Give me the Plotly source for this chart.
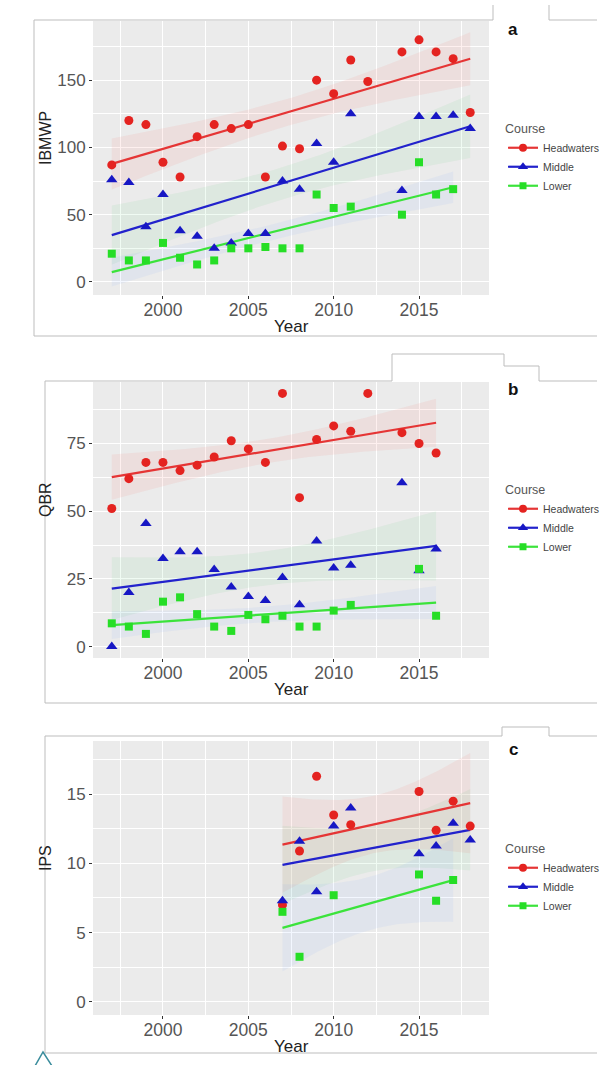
import numpy as np
import plotly.graph_objects as go

W, H = 615, 1065

COURSES = ["Headwaters", "Middle", "Lower"]

# ---------------- data ----------------
# Panel a : IBMWP
a_head_years = [1997, 1998, 1999, 2000, 2001, 2002, 2003, 2004, 2005, 2006, 2007,
                2008, 2009, 2010, 2011, 2012, 2014, 2015, 2016, 2017, 2018]
a_head_vals = [87, 120, 117, 89, 78, 108, 117, 114, 117, 78, 101,
               99, 150, 140, 165, 149, 171, 180, 171, 166, 126]
a_mid_years = [1997, 1998, 1999, 2000, 2001, 2002, 2003, 2004, 2005, 2006, 2007,
               2008, 2009, 2010, 2011, 2014, 2015, 2016, 2017, 2018]
a_mid_vals = [76, 74, 41, 65, 38, 34, 25, 29, 36, 36, 75,
              69, 103, 89, 125, 68, 123, 123, 124, 114]
a_low_years = [1997, 1998, 1999, 2000, 2001, 2002, 2003, 2004, 2005, 2006, 2007,
               2008, 2009, 2010, 2011, 2014, 2015, 2016, 2017]
a_low_vals = [21, 16, 16, 29, 18, 13, 16, 25, 25, 26, 25,
              25, 65, 55, 56, 50, 89, 65, 69]

# Panel b : QBR
b_head_years = [1997, 1998, 1999, 2000, 2001, 2002, 2003, 2004, 2005, 2006, 2007,
                2008, 2009, 2010, 2011, 2012, 2014, 2015, 2016]
b_head_vals = [51, 62, 68, 68, 65, 67, 70, 76, 73, 68, 93.5,
               55, 76.5, 81.5, 79.5, 93.5, 79, 75, 71.5]
b_mid_years = [1997, 1998, 1999, 2000, 2001, 2002, 2003, 2004, 2005, 2006, 2007,
               2008, 2009, 2010, 2011, 2014, 2015, 2016]
b_mid_vals = [0, 20, 45.5, 32.5, 35, 35, 28.5, 22, 18.5, 17, 25.5,
              15.5, 39, 29, 30, 60.5, 28, 36]
b_low_years = [1997, 1998, 1999, 2000, 2001, 2002, 2003, 2004, 2005, 2006, 2007,
               2008, 2009, 2010, 2011, 2015, 2016]
b_low_vals = [8.6, 7.4, 4.7, 16.6, 18.2, 12, 7.4, 5.8, 11.7, 10.1, 11.4,
              7.4, 7.4, 13.3, 15.4, 28.7, 11.4]

# Panel c : IPS
c_head_years = [2007, 2008, 2009, 2010, 2011, 2015, 2016, 2017, 2018]
c_head_vals = [7.0, 10.9, 16.3, 13.5, 12.8, 15.2, 12.4, 14.5, 12.7]
c_mid_years = [2007, 2008, 2009, 2010, 2011, 2015, 2016, 2017, 2018]
c_mid_vals = [7.3, 11.6, 7.95, 12.7, 14.0, 10.7, 11.25, 12.9, 11.7]
c_low_years = [2007, 2008, 2010, 2015, 2016, 2017]
c_low_vals = [6.5, 3.25, 7.7, 9.2, 7.3, 8.8]

x_ticks = [2000, 2005, 2010, 2015]
a_yticks = [0, 50, 100, 150]
b_yticks = [0, 25, 50, 75]
c_yticks = [0, 5, 10, 15]

# ---------------- styles ----------------
COLORS = {"Headwaters": "#E42320", "Middle": "#1717C4", "Lower": "#26DE26"}
LINECOL = {"Headwaters": "#E53535", "Middle": "#2222CC", "Lower": "#3BE33B"}
FILLS = {"Headwaters": "rgba(248,118,109,0.11)",
         "Middle": "rgba(0,186,56,0.06)",
         "Lower": "rgba(97,156,255,0.08)"}
SYMBOLS = {"Headwaters": "circle", "Middle": "triangle-up", "Lower": "square"}
SIZES = {"Headwaters": 9, "Middle": 10, "Lower": 8}


def tq(df):
    z = 1.959964
    return (z + (z**3 + z) / (4 * df) + (5 * z**5 + 16 * z**3 + 3 * z) / (96 * df**2)
            + (3 * z**7 + 19 * z**5 + 17 * z**3 - 15 * z) / (384 * df**3))


def fit(x, y):
    x = np.asarray(x, float)
    y = np.asarray(y, float)
    n = len(x)
    b, a = np.polyfit(x, y, 1)
    xg = np.linspace(x.min(), x.max(), 80)
    yh = a + b * xg
    res = y - (a + b * x)
    s = np.sqrt((res ** 2).sum() / (n - 2))
    sxx = ((x - x.mean()) ** 2).sum()
    se = s * np.sqrt(1.0 / n + (xg - x.mean()) ** 2 / sxx)
    t = tq(n - 2)
    return xg, yh, yh - t * se, yh + t * se


def px(x):
    return x / W


def py(y):
    return 1 - y / H


panels = [
    dict(key="", data={"Headwaters": (a_head_years, a_head_vals),
                       "Middle": (a_mid_years, a_mid_vals),
                       "Lower": (a_low_years, a_low_vals)},
         ytitle="IBMWP", yticks=a_yticks, yr=[-9.7, 194], ymin0=25, ymind=50,
         top=21, bot=295, label="a", legend="legend"),
    dict(key="2", data={"Headwaters": (b_head_years, b_head_vals),
                        "Middle": (b_mid_years, b_mid_vals),
                        "Lower": (b_low_years, b_low_vals)},
         ytitle="QBR", yticks=b_yticks, yr=[-4.2, 97.7], ymin0=12.5, ymind=25,
         top=382, bot=658, label="b", legend="legend2"),
    dict(key="3", data={"Headwaters": (c_head_years, c_head_vals),
                        "Middle": (c_mid_years, c_mid_vals),
                        "Lower": (c_low_years, c_low_vals)},
         ytitle="IPS", yticks=c_yticks, yr=[-0.96, 18.85], ymin0=2.5, ymind=5,
         top=741, bot=1015, label="c", legend="legend3"),
]

fig = go.Figure()
layout = dict(width=W, height=H, margin=dict(l=0, r=0, t=0, b=0),
              paper_bgcolor="white", plot_bgcolor="#EBEBEB",
              font=dict(family="Liberation Sans, Arial", color="#4D4D4D"),
              showlegend=True)
annotations = []
shapes = []

for p in panels:
    xa = "x" + p["key"]
    ya = "y" + p["key"]
    # ribbons
    for c in COURSES:
        xs, ys = p["data"][c]
        xg, yh, lo, hi = fit(xs, ys)
        fig.add_trace(go.Scatter(
            x=np.concatenate([xg, xg[::-1]]), y=np.concatenate([hi, lo[::-1]]),
            fill="toself", fillcolor=FILLS[c], line=dict(width=0),
            mode="lines", hoverinfo="skip", showlegend=False, xaxis=xa, yaxis=ya))
    for c in COURSES:
        xs, ys = p["data"][c]
        xg, yh, lo, hi = fit(xs, ys)
        fig.add_trace(go.Scatter(x=xg, y=yh, mode="lines",
                                 line=dict(color=LINECOL[c], width=2.2),
                                 showlegend=False, xaxis=xa, yaxis=ya))
    for c in COURSES:
        xs, ys = p["data"][c]
        fig.add_trace(go.Scatter(x=xs, y=ys, mode="markers",
                                 marker=dict(color=COLORS[c], symbol=SYMBOLS[c],
                                             size=SIZES[c], line=dict(width=0)),
                                 showlegend=False, xaxis=xa, yaxis=ya))
    # legend keys
    for c in COURSES:
        fig.add_trace(go.Scatter(x=[None], y=[None], mode="lines+markers", name=c,
                                 line=dict(color=LINECOL[c], width=2.2),
                                 marker=dict(color=COLORS[c], symbol=SYMBOLS[c],
                                             size=SIZES[c] - 1),
                                 legend=p["legend"], xaxis=xa, yaxis=ya))

    layout["xaxis" + p["key"]] = dict(
        domain=[px(93), px(489)], anchor=ya, range=[1995.9, 2019.1],
        tickvals=x_ticks, ticks="outside", ticklen=3, tickcolor="#333333",
        ticklabelstandoff=-4,
        tickfont=dict(size=17.5, color="#555555"), showgrid=True,
        gridcolor="white", gridwidth=1.3, zeroline=False, showline=False,
        minor=dict(tick0=1997.5, dtick=5, showgrid=True, gridcolor="white",
                   gridwidth=0.6, ticks=""),
        fixedrange=True)
    layout["yaxis" + p["key"]] = dict(
        domain=[py(p["bot"]), py(p["top"])], anchor=xa, range=p["yr"],
        tickvals=p["yticks"], ticks="outside", ticklen=3, tickcolor="#333333",
        tickfont=dict(size=17, color="#555555"), showgrid=True,
        gridcolor="white", gridwidth=1.3, zeroline=False, showline=False,
        minor=dict(tick0=p["ymin0"], dtick=p["ymind"], showgrid=True,
                   gridcolor="white", gridwidth=0.6, ticks=""),
        fixedrange=True)
    layout[p["legend"]] = dict(
        x=px(503), y=py(p["top"] + 96), xanchor="left", yanchor="top",
        title=dict(text="Course", font=dict(size=12.5, color="#555555")),
        font=dict(size=10.5, color="#444444"), bgcolor="rgba(0,0,0,0)",
        itemwidth=30, tracegroupgap=0)
    annotations.append(dict(text="<b>" + p["label"] + "</b>", x=px(513),
                            y=py(p["top"] + 8), xref="paper", yref="paper",
                            xanchor="center", yanchor="middle",
                            showarrow=False, font=dict(size=17, color="#111111")))
    annotations.append(dict(text="Year", x=px(291), y=py(p["bot"] + 31),
                            xref="paper", yref="paper", showarrow=False,
                            xanchor="center", yanchor="middle",
                            font=dict(size=17, color="#222222")))
    annotations.append(dict(text=p["ytitle"], x=px(45),
                            y=py((p["top"] + p["bot"]) / 2 - 20),
                            xref="paper", yref="paper", showarrow=False,
                            xanchor="center", yanchor="middle",
                            textangle=-90, font=dict(size=16, color="#222222")))

# decorative frame lines of the scanned figure
FRAME = "#BDBDBD"


def seg(x0, y0, x1, y1, col=FRAME, w=1):
    shapes.append(dict(type="line", xref="paper", yref="paper",
                       x0=px(x0), y0=py(y0), x1=px(x1), y1=py(y1),
                       line=dict(color=col, width=w)))


# panel a frame
seg(34, 20, 34, 336)
seg(34, 20, 493, 20)
seg(493, 5, 493, 20)
seg(549, 5, 549, 20)
seg(549, 20, 597, 20)
seg(34, 336, 597, 336)
# panel b frame
seg(45, 381, 45, 703)
seg(45, 381, 392, 381)
seg(392, 354, 392, 381)
seg(392, 354, 504, 354)
seg(504, 354, 504, 366)
seg(504, 366, 539, 366)
seg(539, 366, 539, 381)
seg(539, 381, 597, 381)
seg(45, 703, 597, 703)
# panel c frame
seg(45, 736, 45, 1053)
seg(45, 736, 502, 736)
seg(502, 727, 502, 736)
seg(502, 727, 549, 727)
seg(549, 727, 549, 736)
seg(549, 736, 597, 736)
seg(45, 1053, 597, 1053)
# small teal mark at the bottom left
shapes.append(dict(type="path", xref="paper", yref="paper",
                   path="M {} {} L {} {} L {} {}".format(px(35), py(1066), px(43), py(1052), px(52), py(1066)),
                   line=dict(color="#3A8C9C", width=1.5)))

layout["annotations"] = annotations
layout["shapes"] = shapes
fig.update_layout(**layout)
fig.write_html("out.html")
